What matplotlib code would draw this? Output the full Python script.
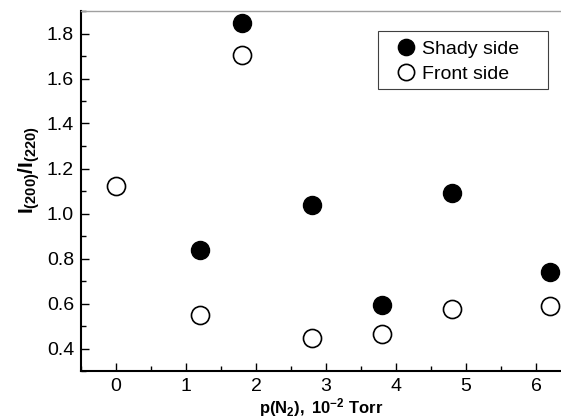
"""Texture coefficient ratio vs nitrogen pressure — shady vs front side."""

import matplotlib
matplotlib.use("Agg")
import matplotlib.pyplot as plt
from matplotlib.patches import Rectangle
from matplotlib.ticker import MultipleLocator

plt.rcParams["font.family"] = ["Liberation Sans", "DejaVu Sans"]
plt.rcParams["mathtext.fontset"] = "custom"
plt.rcParams["mathtext.rm"] = "Liberation Sans"
plt.rcParams["mathtext.bf"] = "Liberation Sans:bold"
plt.rcParams["mathtext.it"] = "Liberation Sans:italic"

# data
shady_p = [1.2, 1.8, 2.8, 3.8, 4.8, 6.2]
shady_ratio = [0.84, 1.845, 1.04, 0.595, 1.092, 0.74]
front_p = [0.0, 1.2, 1.8, 2.8, 3.8, 4.8, 6.2]
front_ratio = [1.12, 0.548, 1.706, 0.445, 0.464, 0.577, 0.588]

W, H = 561, 418
fig = plt.figure(figsize=(W / 100, H / 100), dpi=100)
ax = fig.add_axes([81 / W, 47 / H, 480 / W, 360 / H])

ax.plot(shady_p, shady_ratio, "o", color="black", markersize=13,
        label="Shady side", linestyle="none")
ax.plot(front_p, front_ratio, "o", markerfacecolor="white",
        markeredgecolor="black", markeredgewidth=1.2, markersize=13,
        label="Front side", linestyle="none")

ax.set_xlim(-0.5, 6.357)
ax.set_ylim(0.3, 1.9)
ax.xaxis.set_major_locator(MultipleLocator(1))
ax.xaxis.set_minor_locator(MultipleLocator(0.5))
ax.yaxis.set_major_locator(MultipleLocator(0.2))
ax.yaxis.set_minor_locator(MultipleLocator(0.1))
ax.yaxis.set_major_formatter(lambda v, pos: f"{v:.1f}")
ax.tick_params(which="both", direction="in", labelsize=14, width=1, color="black")
ax.tick_params(which="major", length=6, pad=5)
ax.tick_params(which="minor", length=3.5)
ax.tick_params(axis="y", which="both", right=False)
ax.tick_params(axis="x", which="both", top=False)

for side in ("left", "bottom"):
    ax.spines[side].set_linewidth(1.5)
ax.spines["right"].set_visible(False)
ax.spines["top"].set_color("#a0a0a0")
ax.spines["top"].set_linewidth(1)

ax.set_xlabel(r"$\mathbf{p(N_2),\ 10^{-2}\ Torr}$", fontsize=12)
ax.xaxis.set_label_coords(0.5, -0.07)
ax.set_ylabel(r"$\mathbf{I_{(200)}/I_{(220)}}$", fontsize=15)
ax.yaxis.set_label_coords(-0.081, 0.558)

# legend content without its own frame; the box is drawn separately so the
# padding can match the reference
leg = ax.legend(loc="upper left", bbox_to_anchor=(392 / W, 1 - 40 / H),
                bbox_transform=fig.transFigure, borderaxespad=0, borderpad=0,
                fontsize=14, markerscale=0.9, handletextpad=0.15,
                handlelength=1.4, labelspacing=0.4, frameon=False)
fig.add_artist(Rectangle((378 / W, 1 - 89 / H), 170 / W, 58 / H,
                         transform=fig.transFigure, fill=False,
                         edgecolor="#404040", linewidth=0.8))

fig.savefig("out.png", dpi=100)
plt.close(fig)
